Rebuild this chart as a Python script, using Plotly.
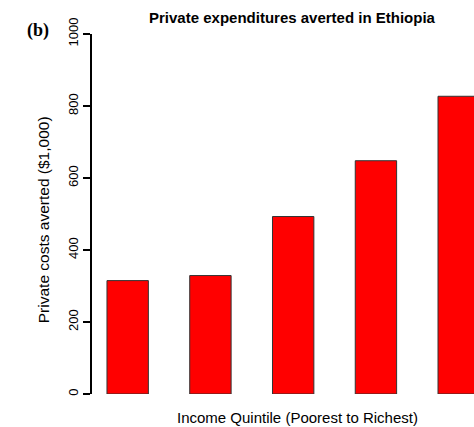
import plotly.graph_objects as go

# Private expenditures averted, by income quintile ($1,000)
quintiles = [1, 2, 3, 4, 5]
costs_averted = [315, 329, 493, 648, 827]
y_ticks = [0, 200, 400, 600, 800, 1000]

fig = go.Figure()
fig.add_trace(go.Bar(
    x=quintiles,
    y=costs_averted,
    width=0.5,
    marker=dict(color="#FF0000", line=dict(color="#333333", width=1)),
))

fig.update_layout(
    width=474,
    height=427,
    margin=dict(l=92, r=0, t=34, b=33),
    paper_bgcolor="white",
    plot_bgcolor="white",
    showlegend=False,
    font=dict(family="Liberation Sans, Arial, sans-serif", size=13, color="black"),
    title=dict(
        text="<b>Private expenditures averted in Ethiopia</b>",
        x=0.616, xanchor="center",
        y=1 - 18 / 427, yanchor="middle",
        font=dict(size=15),
    ),
    xaxis=dict(
        range=[0.569, 5.185],
        showticklabels=False,
        showgrid=False,
        zeroline=False,
        showline=False,
        ticks="",
    ),
    yaxis=dict(
        range=[0, 1000],
        tickvals=y_ticks,
        ticktext=[str(v) for v in y_ticks],
        tickangle=-90,
        tickfont=dict(size=13),
        ticks="outside",
        ticklen=7,
        tickwidth=2,
        tickcolor="black",
        showline=True,
        linewidth=2,
        linecolor="black",
        showgrid=False,
        zeroline=False,
    ),
    annotations=[
        # panel label
        dict(
            text="<b>(b)</b>",
            xref="paper", yref="paper",
            x=-0.141, y=1.011,
            xanchor="center", yanchor="middle",
            showarrow=False,
            font=dict(family="Liberation Serif, Times New Roman, serif", size=18),
        ),
        # x axis title
        dict(
            text="Income Quintile (Poorest to Richest)",
            xref="paper", yref="paper",
            x=0.538, y=-0.064,
            xanchor="center", yanchor="middle",
            showarrow=False,
            font=dict(size=15),
        ),
        # y axis title
        dict(
            text="Private costs averted ($1,000)",
            xref="paper", yref="paper",
            x=-0.128, y=0.483,
            xanchor="center", yanchor="middle",
            textangle=-90,
            showarrow=False,
            font=dict(size=15.5),
        ),
    ],
)

fig.write_html("out.html")
